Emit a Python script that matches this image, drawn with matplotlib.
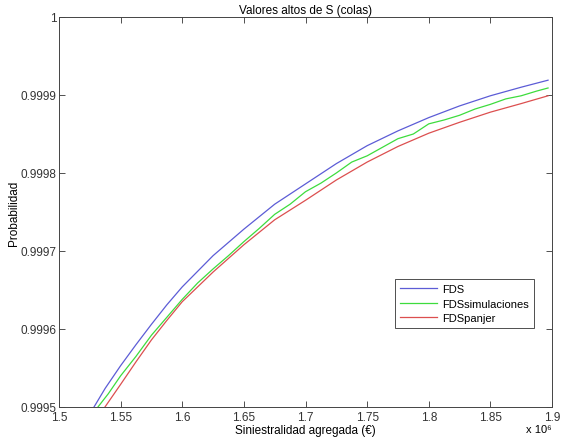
import numpy as np
import matplotlib
matplotlib.use("Agg")
import matplotlib.pyplot as plt
from matplotlib.ticker import FormatStrFormatter

plt.rcParams['font.family'] = ['Liberation Sans', 'DejaVu Sans']

# siniestralidad agregada (millones de euros) y probabilidades
x_fds = [1.5284, 1.5375, 1.55, 1.5625, 1.575, 1.5875, 1.6, 1.625, 1.65, 1.675,
         1.7, 1.725, 1.75, 1.775, 1.8, 1.825, 1.85, 1.875, 1.8968]
p_fds = [0.999500, 0.999524, 0.999553, 0.999580, 0.999606, 0.999631, 0.999654,
         0.999694, 0.999728, 0.999760, 0.999786, 0.999812, 0.999835, 0.999854,
         0.999871, 0.999886, 0.999899, 0.999910, 0.999919]

x_panjer = [1.5373, 1.55, 1.5625, 1.575, 1.5875, 1.6, 1.625, 1.65, 1.675, 1.7,
            1.725, 1.75, 1.775, 1.8, 1.825, 1.85, 1.875, 1.8968]
p_panjer = [0.999500, 0.999529, 0.999558, 0.999586, 0.999611, 0.999635, 0.999673,
            0.999708, 0.999740, 0.999765, 0.999791, 0.999814, 0.999834, 0.999851,
            0.999865, 0.999878, 0.999889, 0.999899]

x_sim = [1.5316, 1.54, 1.55, 1.5625, 1.575, 1.5875, 1.6, 1.6125, 1.625, 1.6375,
         1.65, 1.6625, 1.675, 1.6875, 1.7, 1.7125, 1.725, 1.7375, 1.75, 1.7625,
         1.775, 1.7875, 1.8, 1.8125, 1.825, 1.8375, 1.85, 1.8625, 1.875, 1.8875,
         1.8968]
p_sim = [0.999500, 0.999517, 0.999540, 0.999565, 0.999592, 0.999615, 0.999638,
         0.999659, 0.999677, 0.999694, 0.999712, 0.999729, 0.999747, 0.999760,
         0.999776, 0.999787, 0.999800, 0.999814, 0.999822, 0.999833, 0.999844,
         0.999850, 0.999863, 0.999868, 0.999874, 0.999882, 0.999888, 0.999895,
         0.999899, 0.999905, 0.999909]

xticks = [1.5, 1.55, 1.6, 1.65, 1.7, 1.75, 1.8, 1.85, 1.9]
yticks = [0.9995, 0.9996, 0.9997, 0.9998, 0.9999, 1.0]

fig = plt.figure(figsize=(5.63, 4.39), dpi=100)
ax = fig.add_axes([59/563, 1 - 408/439, 493/563, 390/439])

ax.plot(x_fds, p_fds, color='#5c5cd6', lw=0.9, label='FDS')
ax.plot(x_sim, p_sim, color='#3ddc3d', lw=0.9, label='FDSsimulaciones')
ax.plot(x_panjer, p_panjer, color='#dc4f4f', lw=0.9, label='FDSpanjer')

ax.set_xlim(1.5, 1.9)
ax.set_ylim(0.9995, 1.0)
ax.set_xticks(xticks)
ax.set_yticks(yticks)
ax.xaxis.set_major_formatter(FormatStrFormatter('%g'))
ax.yaxis.set_major_formatter(FormatStrFormatter('%g'))
ax.tick_params(direction='in', length=4, width=0.6, top=True, right=True,
               labelsize=8.5, colors='#333333')
ax.tick_params(axis='x', pad=3)
ax.tick_params(axis='y', pad=2)
for s in ax.spines.values():
    s.set_linewidth(0.7)
    s.set_color('#444444')

ax.set_title('Valores altos de S (colas)', fontsize=8.5, pad=3)
ax.set_xlabel('Siniestralidad agregada (€)', fontsize=8.5, labelpad=0.5)
ax.set_ylabel('Probabilidad', fontsize=8.5, labelpad=0.5)
ax.text(1.0, -0.043, 'x 10⁶', transform=ax.transAxes, fontsize=8,
        ha='right', va='top')

leg = ax.legend(loc='lower left', bbox_to_anchor=(0.682, 0.2026), fontsize=8,
                fancybox=False, framealpha=1, edgecolor='#333333',
                handlelength=3.3, borderpad=0.45, labelspacing=0.4,
                handletextpad=0.5, borderaxespad=0)
leg.get_frame().set_linewidth(0.6)

fig.savefig('out.png', dpi=100)
